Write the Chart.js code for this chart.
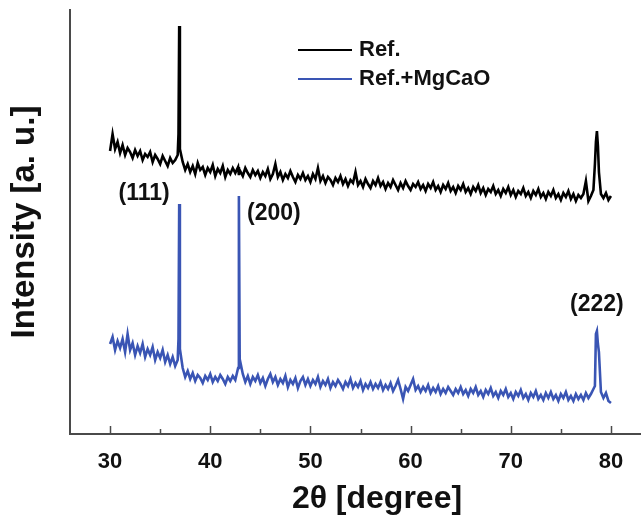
<!DOCTYPE html>
<html>
<head>
<meta charset="utf-8">
<script src="https://cdn.jsdelivr.net/npm/chart.js@4.4.1/dist/chart.umd.min.js"></script>
<style>
  html, body { margin: 0; padding: 0; background: #fff; }
  #wrap { width: 641px; height: 515px; }
</style>
</head>
<body>
<div id="wrap"><canvas id="xrdChart" width="641" height="515"></canvas></div>
<script>
// 2theta positions (degree)
const twoTheta = [
  30, 30.25, 30.5, 30.75, 31, 31.25, 31.5, 31.75, 32, 32.25, 32.5, 32.75,
  33, 33.25, 33.5, 33.75, 34, 34.25, 34.5, 34.75, 35, 35.25, 35.5, 35.75,
  36, 36.25, 36.5, 36.75, 36.83, 36.9, 36.97, 37.25, 37.5, 37.75,
  38, 38.25, 38.5, 38.75, 39, 39.25, 39.5, 39.75, 40, 40.25, 40.5, 40.75,
  41, 41.25, 41.5, 41.75, 42, 42.25, 42.5, 42.78, 42.86, 42.94, 43.25, 43.5, 43.75,
  44, 44.25, 44.5, 44.75, 45, 45.25, 45.5, 45.75, 46, 46.25, 46.5, 46.75,
  47, 47.25, 47.5, 47.75, 48, 48.25, 48.5, 48.75, 49, 49.25, 49.5, 49.75,
  50, 50.25, 50.5, 50.75, 51, 51.25, 51.5, 51.75, 52, 52.25, 52.5, 52.75,
  53, 53.25, 53.5, 53.75, 54, 54.25, 54.5, 54.75, 55, 55.25, 55.5, 55.75,
  56, 56.25, 56.5, 56.75, 57, 57.25, 57.5, 57.75, 58, 58.25, 58.5, 58.75,
  59, 59.25, 59.5, 59.75, 60, 60.25, 60.5, 60.75, 61, 61.25, 61.5, 61.75,
  62, 62.25, 62.5, 62.75, 63, 63.25, 63.5, 63.75, 64, 64.25, 64.5, 64.75,
  65, 65.25, 65.5, 65.75, 66, 66.25, 66.5, 66.75, 67, 67.25, 67.5, 67.75,
  68, 68.25, 68.5, 68.75, 69, 69.25, 69.5, 69.75, 70, 70.25, 70.5, 70.75,
  71, 71.25, 71.5, 71.75, 72, 72.25, 72.5, 72.75, 73, 73.25, 73.5, 73.75,
  74, 74.25, 74.5, 74.75, 75, 75.25, 75.5, 75.75, 76, 76.25, 76.5, 76.75,
  77, 77.25, 77.5, 77.75, 78, 78.25, 78.4, 78.5, 78.6, 78.7, 78.8,
  79, 79.25, 79.5, 79.75, 80
];

// Ref. (black)
const refIntensity = [
  283, 300, 285, 292, 281, 289, 279, 286, 282, 276, 284, 278,
  283, 274, 280, 277, 282, 272, 279, 275, 270, 278, 273, 268,
  276, 271, 274, 279, 300, 408, 285, 272, 264, 270,
  262, 268, 260, 271, 264, 267, 259, 266, 262, 269, 258, 265,
  261, 268, 257, 264, 260, 266, 261, 267, 259, 264, 258, 266, 261,
  257, 264, 259, 263, 256, 262, 258, 265, 255, 260, 270, 257,
  262, 254, 260, 256, 263, 257, 252, 259, 255, 261, 254, 258,
  252, 260, 255, 266, 253, 258, 251, 257, 254, 249, 256, 252,
  258, 250, 255, 248, 254, 251, 262, 249, 253, 247, 255, 250,
  246, 253, 249, 256, 248, 252, 245, 251, 247, 254, 249, 244,
  251, 246, 253, 248, 244, 250, 247, 252, 245, 249, 243, 250,
  246, 252, 244, 248, 242, 249, 245, 251, 243, 247, 241, 248,
  244, 250, 242, 246, 240, 247, 243, 249, 241, 246, 239, 245,
  242, 248, 240, 244, 238, 245, 241, 247, 239, 244, 237, 243,
  240, 246, 238, 242, 236, 243, 239, 245, 237, 241, 235, 242,
  238, 244, 236, 240, 234, 241, 237, 243, 235, 240, 233, 239,
  236, 240, 253, 233, 238, 244, 270, 292, 303, 288, 262,
  240, 236, 241, 234, 238
];

// Ref.+MgCaO (blue)
const mgcaoIntensity = [
  90, 97, 84, 93, 86, 95, 82, 100, 84, 91, 79, 88,
  81, 90, 77, 85, 79, 87, 74, 82, 76, 84, 72, 79,
  70, 77, 68, 74, 95, 230, 85, 66, 57, 63,
  55, 61, 53, 59, 56, 51, 58, 54, 60, 52, 57, 53,
  59, 55, 50, 57, 53, 58, 54, 66, 238, 75, 60, 52, 58,
  50, 57, 53, 59, 51, 56, 48, 55, 60, 52, 57, 49,
  55, 51, 58, 47, 54, 50, 56, 46, 53, 57, 49, 55,
  48, 54, 50, 57, 47, 53, 49, 55, 46, 52, 48, 54,
  50, 45, 52, 48, 55, 46, 51, 47, 53, 44, 50, 46,
  52, 45, 50, 46, 52, 44, 49, 45, 51, 43, 48, 54,
  45, 35, 47, 43, 49, 55, 44, 48, 42, 47, 43, 49,
  41, 46, 42, 48, 40, 45, 41, 47, 43, 39, 45, 41,
  47, 40, 44, 38, 45, 41, 47, 39, 43, 37, 44, 40,
  46, 38, 42, 36, 43, 39, 45, 37, 41, 35, 42, 38,
  44, 36, 40, 34, 41, 37, 43, 35, 39, 34, 41, 36,
  42, 35, 39, 33, 40, 36, 42, 34, 38, 33, 40, 35,
  39, 34, 41, 36, 40, 45, 48, 100, 103, 90, 82,
  42, 36, 41, 33, 31
];

const seriesNames = ['Ref.', 'Ref.+MgCaO'];
const seriesColors = ['#000000', '#3a55b4'];
const majorTicks = [30, 40, 50, 60, 70, 80];
const minorTicks = [35, 45, 55, 65, 75];
const peakNames = ['(111)', '(200)', '(222)'];
const peakAt = [36.9, 42.86, 78.6];
const peakTop = [230, 238, 103];

const FONT = "'Liberation Sans', Arial, Helvetica, sans-serif";

function toPoints(ys) {
  return twoTheta.map(function (x, i) { return { x: x, y: ys[i] }; });
}

const decor = {
  id: 'decor',
  afterDraw: function (chart) {
    const ctx = chart.ctx;
    const xs = chart.scales.x;
    const ys = chart.scales.y;
    const area = chart.chartArea;
    ctx.save();

    // inward ticks
    ctx.strokeStyle = '#4a4a4a';
    ctx.lineWidth = 1.5;
    majorTicks.forEach(function (v) {
      const px = Math.round(xs.getPixelForValue(v)) + 0.5;
      ctx.beginPath(); ctx.moveTo(px, area.bottom); ctx.lineTo(px, area.bottom - 8); ctx.stroke();
    });
    minorTicks.forEach(function (v) {
      const px = Math.round(xs.getPixelForValue(v)) + 0.5;
      ctx.beginPath(); ctx.moveTo(px, area.bottom); ctx.lineTo(px, area.bottom - 5); ctx.stroke();
    });

    // legend
    ctx.font = 'bold 22px ' + FONT;
    ctx.textBaseline = 'middle';
    ctx.textAlign = 'left';
    seriesNames.forEach(function (name, i) {
      const y = 50 + i * 29;
      ctx.strokeStyle = seriesColors[i];
      ctx.lineWidth = 2;
      ctx.beginPath(); ctx.moveTo(298, y); ctx.lineTo(352, y); ctx.stroke();
      ctx.fillStyle = '#111';
      ctx.fillText(name, 359, y);
    });

    // peak labels
    const offs = [[-35, -10], [35, 18], [0, -26]];
    ctx.textAlign = 'center';
    ctx.font = 'bold 23px ' + FONT;
    peakNames.forEach(function (name, i) {
      const px = xs.getPixelForValue(peakAt[i]) + offs[i][0];
      const py = ys.getPixelForValue(peakTop[i]) + offs[i][1];
      ctx.fillText(name, px, py);
    });

    // axis titles
    ctx.font = 'bold 32px ' + FONT;
    ctx.textAlign = 'center';
    ctx.textBaseline = 'alphabetic';
    ctx.fillText('2\u03b8 [degree]', 377, 508);
    ctx.font = 'bold 33px ' + FONT;
    ctx.translate(34, (area.top + area.bottom) / 2);
    ctx.rotate(-Math.PI / 2);
    ctx.fillText('Intensity [a. u.]', 0, 0);
    ctx.restore();
  }
};

const ctx = document.getElementById('xrdChart').getContext('2d');
const xrdChart = new Chart(ctx, {
  type: 'line',
  data: {
    datasets: [
      {
        label: seriesNames[0],
        data: toPoints(refIntensity),
        borderColor: seriesColors[0],
        borderWidth: 2.6,
        pointRadius: 0,
        tension: 0
      },
      {
        label: seriesNames[1],
        data: toPoints(mgcaoIntensity),
        borderColor: seriesColors[1],
        borderWidth: 2.6,
        pointRadius: 0,
        tension: 0
      }
    ]
  },
  options: {
    responsive: false,
    animation: false,
    layout: { padding: { top: 10, right: 0, left: 0, bottom: 0 } },
    plugins: {
      legend: { display: false },
      tooltip: { enabled: false }
    },
    scales: {
      x: {
        type: 'linear',
        min: 26,
        max: 83,
        afterBuildTicks: function (scale) {
          scale.ticks = majorTicks.map(function (v) { return { value: v }; });
        },
        afterFit: function (scale) { scale.height = 81; },
        grid: { display: false, drawTicks: false },
        border: { display: true, color: '#4a4a4a', width: 2 },
        ticks: {
          color: '#111',
          padding: 15,
          maxRotation: 0,
          font: { family: FONT, size: 22, weight: 'bold' }
        }
      },
      y: {
        type: 'linear',
        min: 0,
        max: 424,
        afterFit: function (scale) { scale.width = 70; },
        grid: { display: false, drawTicks: false },
        border: { display: true, color: '#4a4a4a', width: 2 },
        ticks: { display: false }
      }
    }
  },
  plugins: [decor]
});
</script>
</body>
</html>
